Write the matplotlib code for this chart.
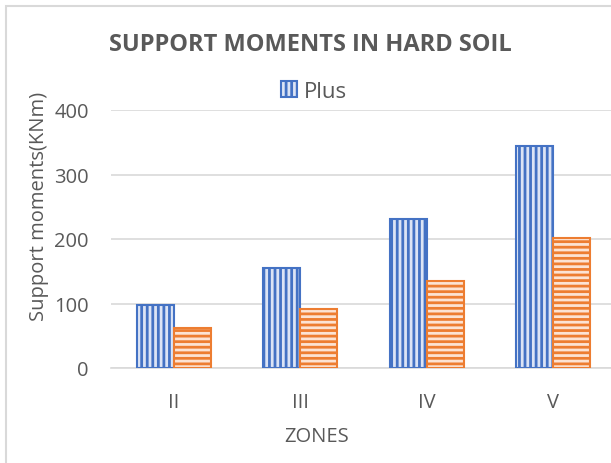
import matplotlib.pyplot as plt
import matplotlib as mpl
from matplotlib.patches import Rectangle
import numpy as np

zones = ["II", "III", "IV", "V"]
plus = [98, 155, 231, 344]
minus = [62, 91, 135, 202]

mpl.rcParams['hatch.linewidth'] = 2.0
plt.rcParams['font.family'] = ['Open Sans', 'DejaVu Sans']

W, H = 611, 464
fig = plt.figure(figsize=(W/100, H/100), dpi=100)
ax = fig.add_axes([111/W, 1-369/H, (616-111)/W, (369-111)/H])

x = np.arange(len(zones))
w = 0.293
blue = '#4472C4'
orange = '#ED7D31'
b1 = ax.bar(x - w/2, plus, w, facecolor='#DCE4F5', edgecolor=blue, hatch='|||', linewidth=1.5, label='Plus', zorder=3)
b2 = ax.bar(x + w/2, minus, w, facecolor='#FCE3D3', edgecolor=orange, hatch='---', linewidth=1.5, zorder=3)

ax.set_ylim(0, 400)
ax.set_xlim(-0.5, 3.5)
ax.set_yticks([0, 100, 200, 300, 400])
ax.set_xticks(x)
ax.set_xticklabels(zones)
ax.grid(axis='y', color='#D9D9D9', linewidth=1.2, zorder=0)
for s in ['top', 'right', 'left']:
    ax.spines[s].set_visible(False)
ax.spines['bottom'].set_color('#D9D9D9')
ax.spines['bottom'].set_linewidth(1.2)
ax.tick_params(axis='both', length=0, colors='#595959', labelsize=14.5)
ax.tick_params(axis='x', pad=17)
ax.tick_params(axis='y', pad=16)
ax.set_xlabel('ZONES', color='#595959', fontsize=14.5, va='center')
ax.xaxis.set_label_coords((317-111)/505, -(437-369)/258)
ax.set_ylabel('Support moments(KNm)', color='#595959', fontsize=14.5, va='center')
ax.yaxis.set_label_coords(-(111-39)/505, (369-206)/258)

fig.text(310/W, 1-45/H, 'SUPPORT MOMENTS IN HARD SOIL', ha='center', va='center',
         fontsize=17, fontweight='bold', color='#595959')
leg = fig.legend(handles=[b1], loc='center', bbox_to_anchor=(314/W, 1-92/H), frameon=False,
                 fontsize=16, handlelength=0.75, handleheight=0.75, handletextpad=0.3,
                 labelcolor='#595959', borderpad=0)

fig.patches.append(Rectangle((6/W, -0.1), 1.2, 1 - 7/H + 0.1, transform=fig.transFigure,
                             fill=False, edgecolor='#D9D9D9', linewidth=1.5))
fig.savefig('out.png', dpi=100)
